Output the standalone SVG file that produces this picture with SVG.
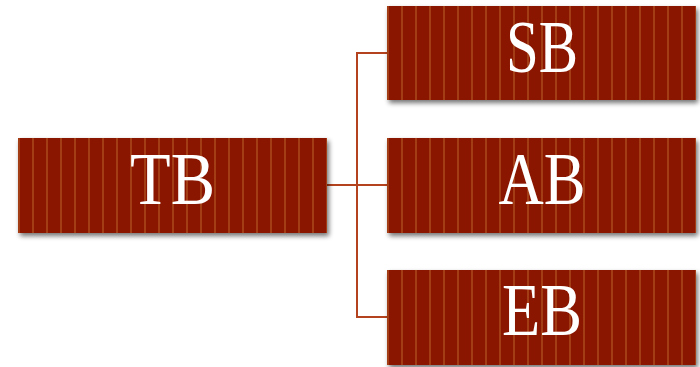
<svg xmlns="http://www.w3.org/2000/svg" width="700" height="367" viewBox="0 0 700 367">
<defs>
<pattern id="stripesL" patternUnits="userSpaceOnUse" x="18" y="0" width="14" height="10">
<rect x="0" y="0" width="14" height="10" fill="#8A1500"/>
<rect x="0" y="0" width="2" height="10" fill="#A23C17"/>
</pattern>
<pattern id="stripesR" patternUnits="userSpaceOnUse" x="387" y="0" width="14" height="10">
<rect x="0" y="0" width="14" height="10" fill="#8A1500"/>
<rect x="0" y="0" width="2" height="10" fill="#A23C17"/>
</pattern>
<filter id="shadow" x="-5%" y="-10%" width="115%" height="130%">
<feGaussianBlur in="SourceAlpha" stdDeviation="2.5"/>
<feOffset dx="2" dy="3" result="b"/>
<feComponentTransfer><feFuncA type="linear" slope="0.55"/></feComponentTransfer>
<feMerge><feMergeNode/><feMergeNode in="SourceGraphic"/></feMerge>
</filter>
<style>
.box{filter:url(#shadow);}
.l{fill:url(#stripesL);}
.r{fill:url(#stripesR);}
.lbl{font-family:'Liberation Serif','Times New Roman',serif;font-size:74px;fill:#FFFFFF;text-anchor:middle;}
.conn{fill:none;stroke:#B5421E;stroke-width:2;}
</style>
</defs>
<rect width="700" height="367" fill="#FFFFFF"/>
<g id="connectors">
<path class="conn" d="M327 185 H387"/>
<path class="conn" d="M387 53 H357 V317 H387"/>
</g>
<g id="TB">
<rect class="box l" x="18" y="138" width="309" height="95"/>
<text class="lbl" x="172.5" y="204" textLength="85" lengthAdjust="spacingAndGlyphs">TB</text>
</g>
<g id="SB">
<rect class="box r" x="387" y="6" width="309" height="94"/>
<text class="lbl" x="542" y="72" textLength="72" lengthAdjust="spacingAndGlyphs">SB</text>
</g>
<g id="AB">
<rect class="box r" x="387" y="138" width="309" height="95"/>
<text class="lbl" x="542" y="204" textLength="87" lengthAdjust="spacingAndGlyphs">AB</text>
</g>
<g id="EB">
<rect class="box r" x="387" y="270" width="309" height="95"/>
<text class="lbl" x="542" y="335" textLength="80" lengthAdjust="spacingAndGlyphs">EB</text>
</g>
</svg>
